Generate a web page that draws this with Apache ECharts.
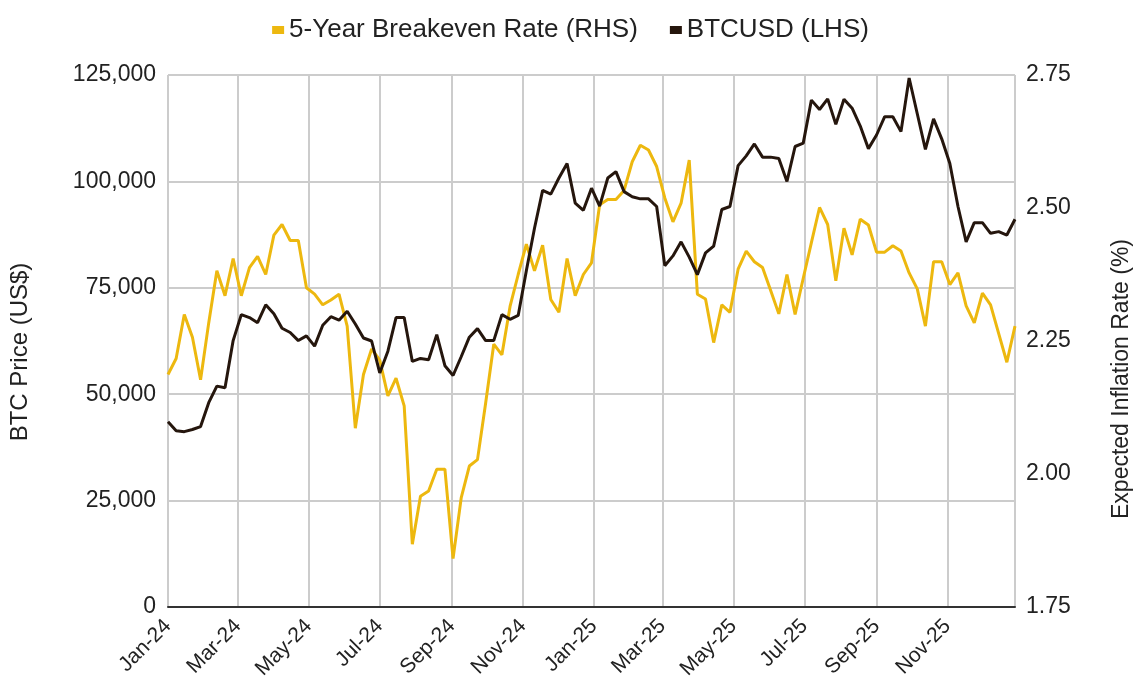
<!DOCTYPE html>
<html>
<head>
<meta charset="utf-8">
<script src="https://cdn.jsdelivr.net/npm/echarts@6/dist/echarts.min.js"></script>
<style>
  html, body { margin: 0; padding: 0; background: #fff; }
  #chart { width: 1141px; height: 687px; }
</style>
</head>
<body>
<div id="chart"></div>
<script>
// weekly observations, first one on 2024-01-01
var startDate = '2024-01-01';
var monthNames = ['Jan', 'Feb', 'Mar', 'Apr', 'May', 'Jun', 'Jul', 'Aug', 'Sep', 'Oct', 'Nov', 'Dec'];

// BTCUSD close, US$ (left axis)
var btcusd = [
  43500, 41400, 41200, 41700, 42400, 48000, 51900, 51500, 62600, 68700,
  68000, 66800, 71000, 68900, 65500, 64500, 62600, 63700, 61300, 66200,
  68200, 67400, 69500, 66500, 63200, 62500, 55000, 60100, 68000, 68000,
  57700, 58400, 58100, 64000, 56700, 54400, 58800, 63400, 65400, 62600,
  62600, 68700, 67600, 68500, 79000, 89000, 97900, 97000, 100800, 104200,
  94900, 93200, 98400, 94200, 100800, 102300, 97600, 96400, 95900, 95900,
  94100, 80200, 82500, 85800, 82200, 78100, 83200, 84800, 93400, 94100,
  103700, 106000, 108800, 105700, 105700, 105400, 100000, 108200, 109000, 119100,
  116900, 119400, 113400, 119300, 117200, 113000, 107700, 110900, 115200, 115200,
  111700, 124300, 115900, 107500, 114700, 110000, 104200, 94100, 85800, 90300,
  90300, 87800, 88200, 87400, 91100
];

// 5-year breakeven inflation rate, % (right axis)
var breakeven = [
  2.187, 2.217, 2.300, 2.257, 2.177, 2.284, 2.382, 2.335, 2.405, 2.335,
  2.388, 2.409, 2.375, 2.449, 2.469, 2.439, 2.439, 2.350, 2.338, 2.318,
  2.327, 2.338, 2.278, 2.086, 2.187, 2.235, 2.214, 2.147, 2.180, 2.128,
  1.868, 1.958, 1.968, 2.009, 2.009, 1.841, 1.955, 2.015, 2.027, 2.133,
  2.244, 2.224, 2.315, 2.375, 2.432, 2.382, 2.430, 2.328, 2.304, 2.405,
  2.335, 2.375, 2.397, 2.506, 2.516, 2.516, 2.533, 2.587, 2.618, 2.609,
  2.578, 2.519, 2.474, 2.509, 2.590, 2.338, 2.329, 2.247, 2.318, 2.304,
  2.385, 2.419, 2.399, 2.388, 2.345, 2.301, 2.375, 2.300, 2.368, 2.435,
  2.501, 2.469, 2.363, 2.462, 2.412, 2.479, 2.468, 2.417, 2.417, 2.429,
  2.419, 2.378, 2.348, 2.278, 2.399, 2.399, 2.356, 2.378, 2.316, 2.284,
  2.340, 2.318, 2.264, 2.210, 2.278
];

var yellow = '#EDB80F';
var brown = '#25160D';
var gridGrey = '#CCCCCC';
var textCol = '#222';
var font = '"Liberation Sans", Arial, sans-serif';

var dates = [];
var t0 = new Date(startDate + 'T00:00:00').getTime();
for (var i = 0; i < btcusd.length; i++) {
  dates.push(t0 + i * 7 * 86400000);
}
function pairs(vals) {
  return vals.map(function(v, i) { return [dates[i], v]; });
}

var chart = echarts.init(document.getElementById('chart'), null, { renderer: 'canvas' });
chart.setOption({
  animation: false,
  textStyle: { fontFamily: font },
  legend: {
    top: 12,
    left: 'center',
    icon: 'rect',
    itemWidth: 12,
    itemHeight: 8,
    itemGap: 32,
    textStyle: { color: textCol, fontSize: 26, fontFamily: font },
    data: ['5-Year Breakeven Rate (RHS)', 'BTCUSD (LHS)']
  },
  grid: { left: 168, right: 121, top: 75, bottom: 80 },
  xAxis: {
    type: 'time',
    min: dates[0],
    max: dates[dates.length - 1],
    splitNumber: 12,
    minInterval: 65 * 86400000,
    maxInterval: 65 * 86400000,
    axisLine: { lineStyle: { color: '#333', width: 2 } },
    axisTick: { show: false },
    splitLine: { show: true, lineStyle: { color: gridGrey, width: 2 } },
    axisLabel: {
      rotate: 45,
      color: textCol,
      fontSize: 21,
      margin: 16,
      formatter: function(v) {
        var d = new Date(v);
        return monthNames[d.getMonth()] + '-' + String(d.getFullYear()).slice(2);
      }
    }
  },
  yAxis: [{
    type: 'value',
    min: 0,
    max: 125000,
    interval: 25000,
    name: 'BTC Price (US$)',
    nameLocation: 'middle',
    nameGap: 136,
    nameRotate: 90,
    nameTextStyle: { color: textCol, fontSize: 24, fontFamily: font, padding: [0, 22, 0, 0] },
    axisLine: { show: false },
    axisTick: { show: false },
    splitLine: { lineStyle: { color: gridGrey, width: 2 } },
    axisLabel: {
      color: textCol,
      fontSize: 23,
      margin: 12,
      formatter: function(v) { return v.toLocaleString('en-US'); }
    }
  }, {
    type: 'value',
    position: 'right',
    min: 1.75,
    max: 2.75,
    interval: 0.25,
    name: 'Expected Inflation Rate (%)',
    nameLocation: 'middle',
    nameGap: 95,
    nameRotate: 90,
    nameTextStyle: { color: textCol, fontSize: 23, fontFamily: font, padding: [0, 76, 0, 0] },
    axisLine: { show: false },
    axisTick: { show: false },
    splitLine: { show: false },
    axisLabel: {
      color: textCol,
      fontSize: 23,
      margin: 11,
      formatter: function(v) { return v.toFixed(2); }
    }
  }],
  series: [{
    name: '5-Year Breakeven Rate (RHS)',
    type: 'line',
    yAxisIndex: 1,
    showSymbol: false,
    symbol: 'none',
    lineStyle: { color: yellow, width: 3 },
    itemStyle: { color: yellow },
    data: pairs(breakeven)
  }, {
    name: 'BTCUSD (LHS)',
    type: 'line',
    yAxisIndex: 0,
    showSymbol: false,
    symbol: 'none',
    lineStyle: { color: brown, width: 3 },
    itemStyle: { color: brown },
    data: pairs(btcusd)
  }]
});
window.addEventListener('resize', function() { chart.resize(); });
</script>
</body>
</html>
